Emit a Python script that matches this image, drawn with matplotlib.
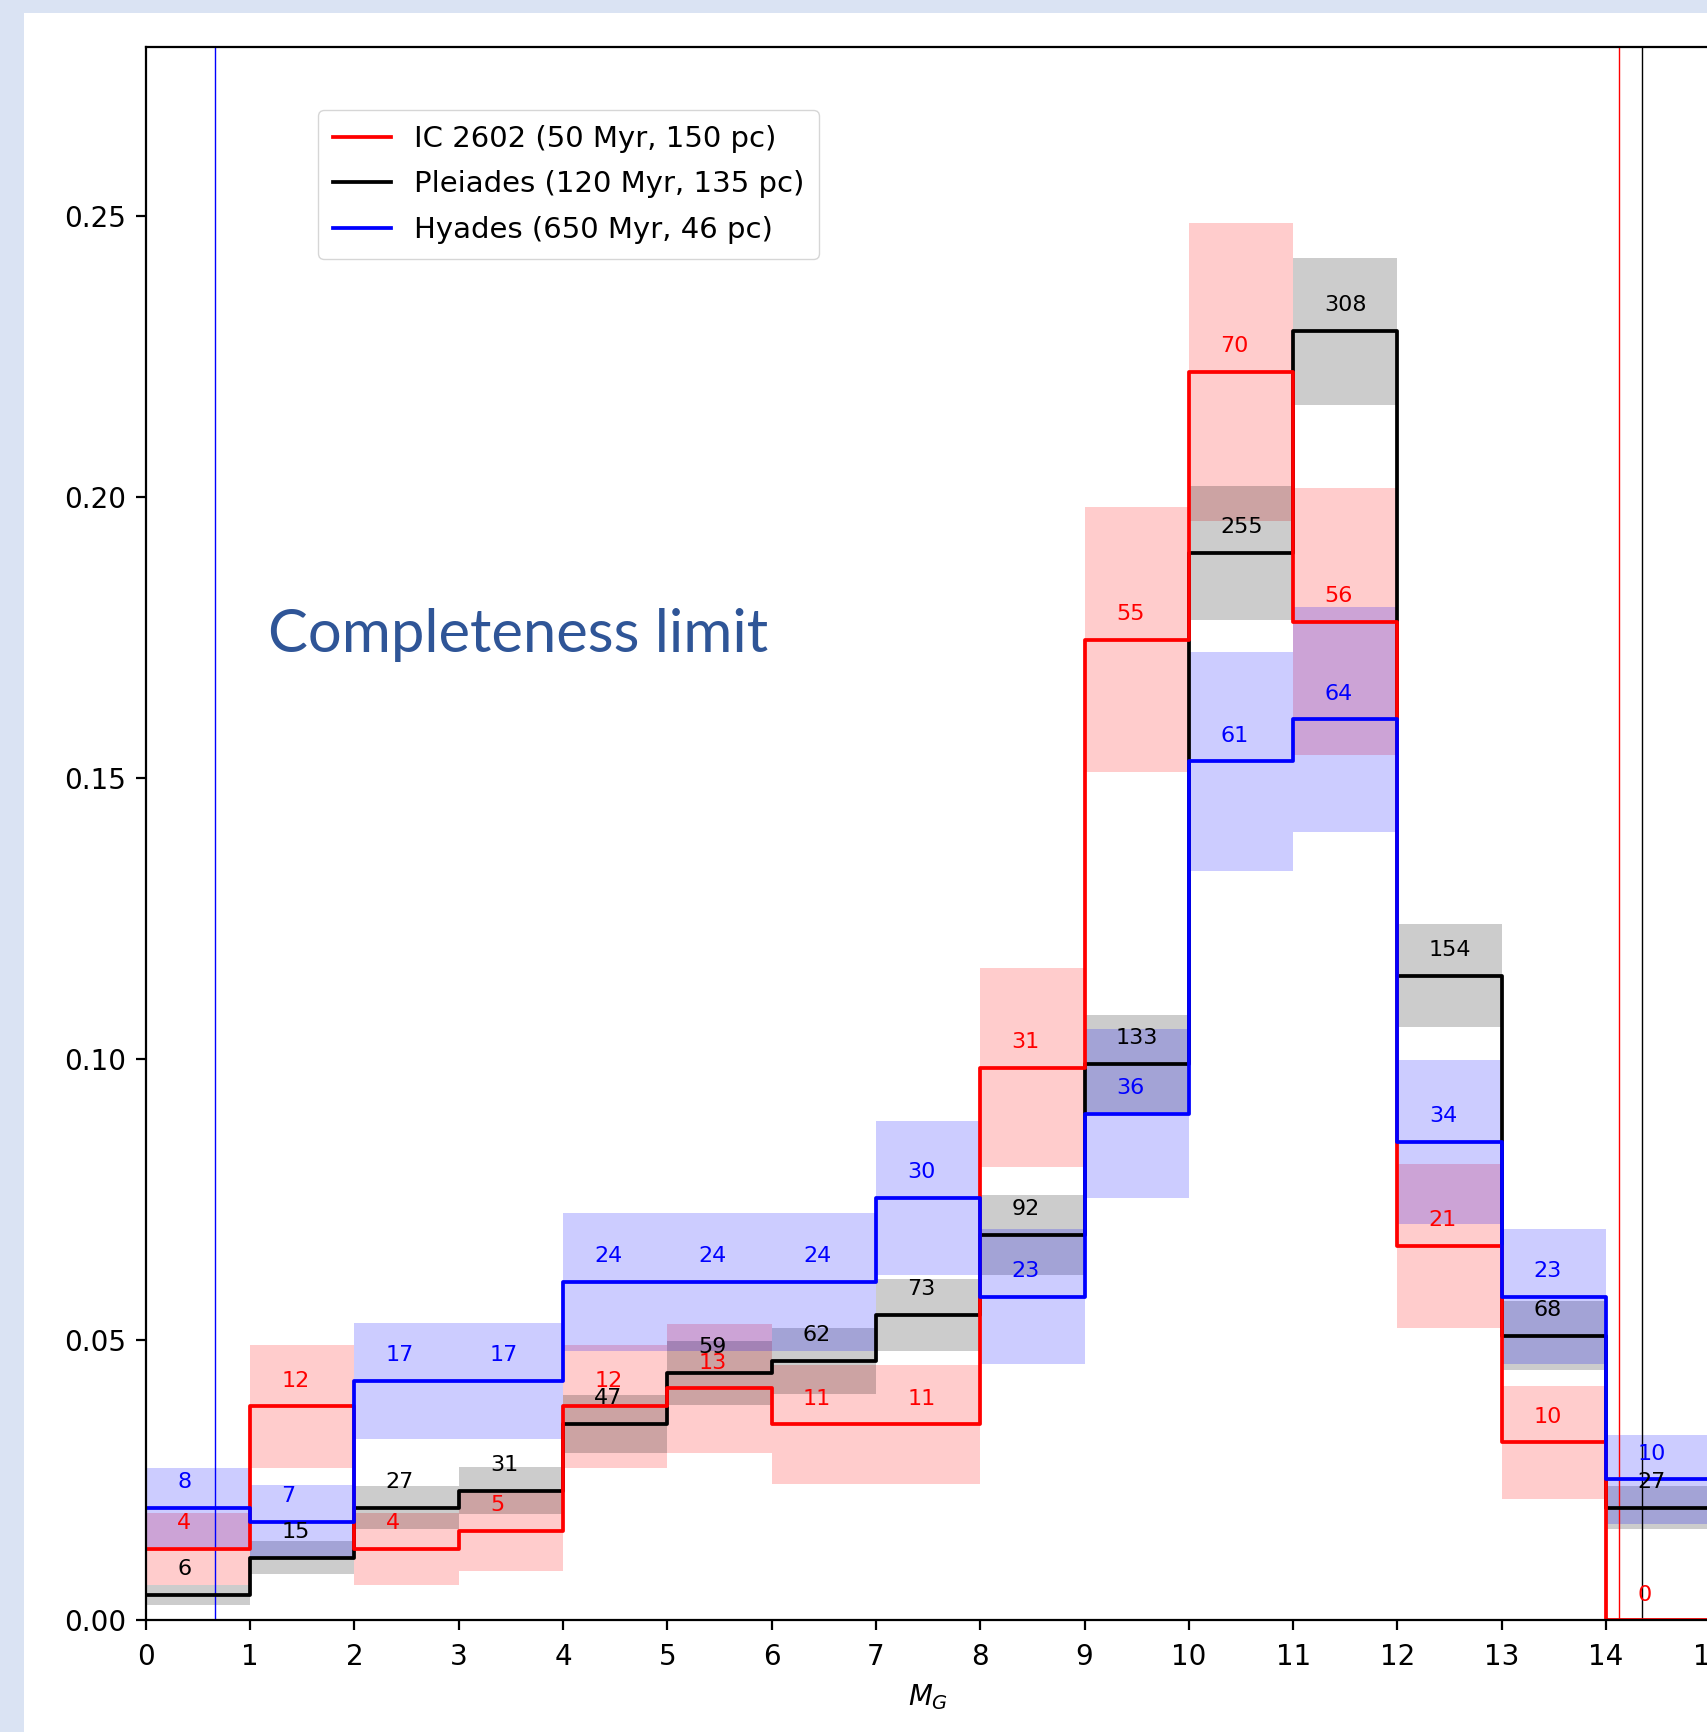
import numpy as np
import matplotlib.pyplot as plt
from matplotlib.patches import Rectangle

# absolute magnitude bins (M_G)
edges = np.arange(0, 16)

# star counts per bin (numbers written on the chart)
ic2602_n = [4, 12, 4, 5, 12, 13, 11, 11, 31, 55, 70, 56, 21, 10, 0]
pleiades_n = [6, 15, 27, 31, 47, 59, 62, 73, 92, 133, 255, 308, 154, 68, 27]
hyades_n = [8, 7, 17, 17, 24, 24, 24, 30, 23, 36, 61, 64, 34, 23, 10]

# fraction of stars per bin
ic2602_f = [0.0127, 0.0381, 0.0127, 0.0159, 0.0381, 0.0413, 0.0349, 0.0349,
            0.0984, 0.1746, 0.2222, 0.1778, 0.0667, 0.0317, 0.0]
pleiades_f = [0.0045, 0.0112, 0.0201, 0.0231, 0.0350, 0.0440, 0.0462, 0.0544,
              0.0686, 0.0991, 0.1900, 0.2295, 0.1148, 0.0507, 0.0201]
hyades_f = [0.0201, 0.0175, 0.0426, 0.0426, 0.0602, 0.0602, 0.0602, 0.0752,
            0.0576, 0.0902, 0.1529, 0.1604, 0.0852, 0.0576, 0.0251]

# completeness limits (M_G)
ic2602_lim = 14.12
pleiades_lim = 14.34
hyades_lim = 0.66

labels = ['IC 2602 (50 Myr, 150 pc)', 'Pleiades (120 Myr, 135 pc)',
          'Hyades (650 Myr, 46 pc)']

fig = plt.figure(figsize=(17.08, 17.32), dpi=100, facecolor='#dae3f3')
fig.patches.append(Rectangle((0.0142, 0), 1.0, 0.9923, transform=fig.transFigure,
                             facecolor='white', edgecolor='none', zorder=-1))

ax = fig.add_axes([0.0854, 0.0644, 0.9160, 0.9082])

series = [(ic2602_n, ic2602_f, 'red', 2.2, labels[0]),
          (pleiades_n, pleiades_f, 'black', 2.1, labels[1]),
          (hyades_n, hyades_f, 'blue', 2.3, labels[2])]

for n, f, c, z, lab in series:
    n = np.array(n, dtype=float)
    f = np.array(f)
    # poisson error band
    rel = np.zeros_like(f)
    rel[n > 0] = 1 / np.sqrt(n[n > 0])
    lo = f * (1 - rel)
    hi = f * (1 + rel)
    ax.fill_between(edges, np.append(lo, lo[-1]), np.append(hi, hi[-1]),
                    step='post', color=c, alpha=0.2, linewidth=0, zorder=1)
    ax.step(edges, np.append(f, f[-1]), where='post', color=c, lw=2.7,
            zorder=z, label=lab)
    for i in range(len(f)):
        ax.text(edges[i] + 0.30, f[i] + 0.0046, '%d' % n[i], color=c,
                fontsize=16, ha='left', va='center', zorder=5)

ax.axvline(ic2602_lim, color='red', lw=1.0)
ax.axvline(pleiades_lim, color='black', lw=1.0)
ax.axvline(hyades_lim, color='blue', lw=1.0)

ax.set_xlim(0, 15)
ax.set_ylim(0, 0.28)
ax.set_xticks(range(0, 16))
ax.set_yticks([0.0, 0.05, 0.10, 0.15, 0.20, 0.25])
ax.set_yticklabels(['0.00', '0.05', '0.10', '0.15', '0.20', '0.25'])
ax.tick_params(labelsize=20, length=7, width=1.6, pad=7)
ax.tick_params(axis='x', pad=9)
for s in ax.spines.values():
    s.set_linewidth(1.6)
ax.set_xlabel(r'$M_G$', fontsize=20, labelpad=8)

ax.legend(loc='upper left', bbox_to_anchor=(0.110, 0.960), borderaxespad=0,
          fontsize=21, handlelength=2.0, labelspacing=0.6, borderpad=0.5)

fig.text(0.157, 0.6237, 'Completeness limit', fontsize=43, family='Lato',
         color='#2f5597', ha='left', va='baseline')

fig.savefig('out.png', dpi=100, facecolor=fig.get_facecolor())
